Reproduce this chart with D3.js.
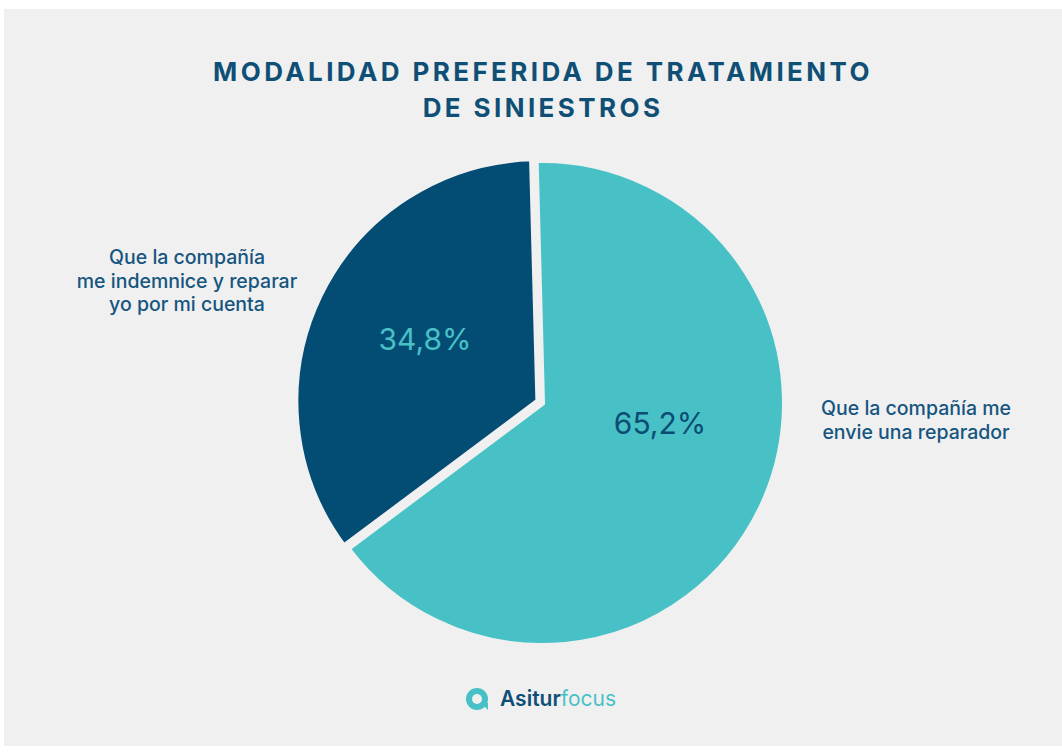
<!DOCTYPE html>
<html>
<head>
<meta charset="utf-8">
<script src="https://cdn.jsdelivr.net/npm/d3@7"></script>
<style>
  body { margin: 0; background: #fff; }
  svg { display: block; font-family: "Inter", "Lato", sans-serif; }
</style>
</head>
<body>
<div id="chart"></div>
<script>
// Data
const categories = [
    "Que la compañía me envie una reparador",
    "Que la compañía me indemnice y reparar yo por mi cuenta"
];
const values = [65.2, 34.8];
const sliceColors = ["#48c1c6", "#034c74"];
const valueColors = ["#0b4d73", "#48c1c6"];
const titleLines = ["MODALIDAD PREFERIDA DE TRATAMIENTO", "DE SINIESTROS"];

const width = 1062, height = 752;
const bg = "#f0f0f0";

const svg = d3.select("#chart")
    .append("svg")
    .attr("width", width)
    .attr("height", height);

// gray panel
svg.append("rect")
    .attr("x", 4).attr("y", 9)
    .attr("width", width - 4).attr("height", 737)
    .attr("fill", bg);

// title
svg.append("g")
    .selectAll("text")
    .data(titleLines)
    .join("text")
    .attr("x", 543)
    .attr("y", (d, i) => 81 + i * 36)
    .attr("text-anchor", "middle")
    .attr("fill", "#0f4f76")
    .attr("font-size", 26)
    .attr("font-weight", 700)
    .attr("letter-spacing", 3.4)
    .text(d => d);

// pie (rotated a touch so the split lines sit where the reference has them)
const cx = 542, cy = 403, radius = 243;
const rot = -1.5 * Math.PI / 180;
const pie = d3.pie().sort(null).value(d => d)
    .startAngle(rot).endAngle(2 * Math.PI + rot);
const arc = d3.arc().innerRadius(0).outerRadius(radius);
const arcs = pie(values);

const g = svg.append("g").attr("transform", `translate(${cx},${cy})`);

// pull the smaller slice out a little
const offset = i => {
    if (i !== 1) return [0, 0];
    const a = (arcs[i].startAngle + arcs[i].endAngle) / 2;
    return [Math.sin(a) * 4, -Math.cos(a) * 4];
};

g.selectAll("path")
    .data(arcs)
    .join("path")
    .attr("d", arc)
    .attr("transform", (d, i) => `translate(${offset(i)})`)
    .attr("fill", (d, i) => sliceColors[i])
    .attr("stroke", bg)
    .attr("stroke-width", 6)
    .attr("stroke-linejoin", "miter");

// value labels inside slices
const labelPos = [[118, 20], [-117, -64]];
g.selectAll("text.value")
    .data(arcs)
    .join("text")
    .attr("class", "value")
    .attr("x", (d, i) => labelPos[i][0])
    .attr("y", (d, i) => labelPos[i][1])
    .attr("dy", "0.35em")
    .attr("text-anchor", "middle")
    .attr("fill", (d, i) => valueColors[i])
    .attr("font-size", 30)
    .text(d => d3.format(".1f")(d.data).replace(".", ",") + "%");

// category labels outside
const catLines = [
    ["Que la compañía me", "envie una reparador"],
    ["Que la compañía", "me indemnice y reparar", "yo por mi cuenta"]
];
const catPos = [[916, 415], [187, 264]];
catLines.forEach((lines, i) => {
    svg.append("text")
        .attr("text-anchor", "middle")
        .attr("fill", "#15557f")
        .attr("font-size", 19.5)
        .attr("font-weight", 500)
        .selectAll("tspan")
        .data(lines)
        .join("tspan")
        .attr("x", catPos[i][0])
        .attr("y", (d, j) => catPos[i][1] + j * 23.5)
        .text(d => d);
});

// logo
const logo = svg.append("g").attr("transform", "translate(477,699)");
logo.append("circle").attr("r", 11).attr("fill", "#48c1c6");
logo.append("circle").attr("r", 5).attr("fill", bg);
logo.append("path")
    .attr("d", "M4,4 L11,11 L11,4 Z")
    .attr("fill", "#48c1c6");
const logoText = svg.append("text")
    .attr("x", 500).attr("y", 706)
    .attr("font-size", 21)
    .attr("font-weight", 600);
logoText.append("tspan").attr("fill", "#0f4f76").text("Asitur");
logoText.append("tspan").attr("fill", "#48c1c6").attr("font-weight", 400).text("focus");
</script>
</body>
</html>
